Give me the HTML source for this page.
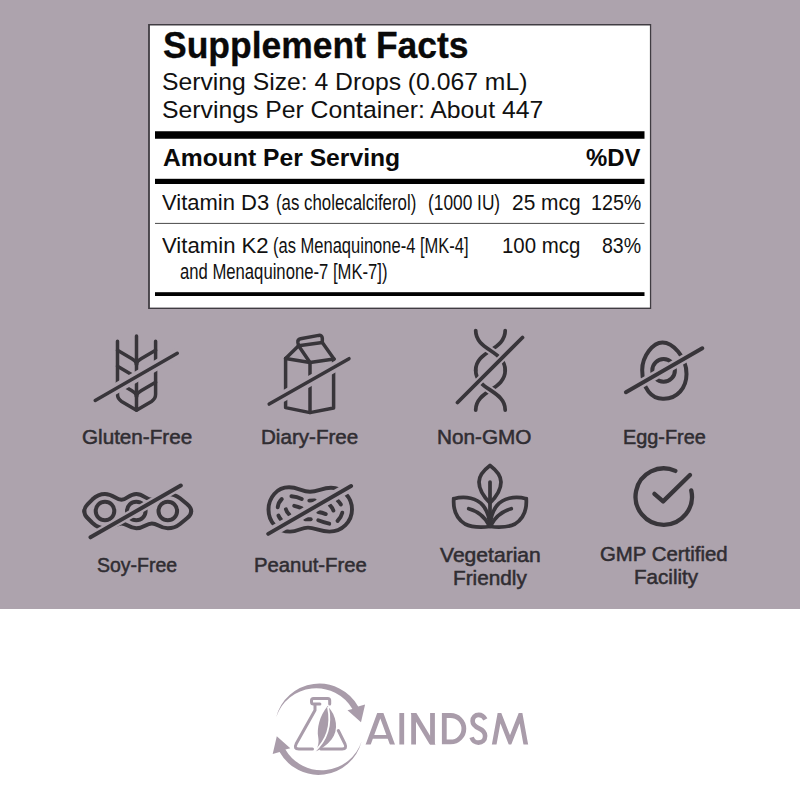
<!DOCTYPE html>
<html><head><meta charset="utf-8">
<style>
html,body{margin:0;padding:0;}
body{width:800px;height:800px;background:#fff;position:relative;overflow:hidden;font-family:"Liberation Sans",sans-serif;}
#top{position:absolute;left:0;top:0;width:800px;height:609px;background:#ada3ad;border-bottom:0;}
#box{position:absolute;left:148px;top:24px;width:500.2px;height:282.3px;background:#fff;border-style:solid;border-color:#403c42;border-width:1.5px 1.3px 1.2px 1.7px;}
.t{position:absolute;white-space:nowrap;line-height:1;transform-origin:0 0;}
.bar{position:absolute;background:#000;}
svg{position:absolute;left:0;top:0;}
</style></head><body>
<div id="top"></div>
<svg width="800" height="800" viewBox="0 0 800 800">
<rect x="148.1" y="24" width="503.1" height="285" fill="#403c42"/>
<rect x="149.9" y="25.5" width="500" height="282.1" fill="#fff"/>
<rect x="155" y="131.25" width="489.5" height="7.5" fill="#000"/>
<rect x="155" y="178.8" width="489.5" height="5.2" fill="#000"/>
<rect x="155" y="222.9" width="489.5" height="1" fill="#4a4a4a"/>
<rect x="155" y="292.2" width="489.5" height="3.8" fill="#000"/>
</svg>
<div class="t" id="t1" style="left:162.61px;top:28.33px;font-size:36px;color:#0a0a0a;transform:scaleX(0.9856);font-weight:bold;-webkit-text-stroke:0.3px #0a0a0a;">Supplement Facts</div>
<div class="t" id="t2" style="left:161.99px;top:70.26px;font-size:24.5px;color:#111;transform:scaleX(1.0087);">Serving Size: 4 Drops (0.067 mL)</div>
<div class="t" id="t3" style="left:161.99px;top:98.26px;font-size:24.5px;color:#111;transform:scaleX(1.0104);">Servings Per Container: About 447</div>
<div class="t" id="t4" style="left:162.50px;top:146.26px;font-size:24.5px;color:#0a0a0a;transform:scaleX(1.0070);font-weight:bold;">Amount Per Serving</div>
<div class="t" id="t5" style="left:585.50px;top:146.26px;font-size:24.5px;color:#0a0a0a;transform:scaleX(0.9756);font-weight:bold;">%DV</div>
<div class="t" id="r1a" style="left:162.30px;top:192.80px;font-size:21.5px;color:#111;transform:scaleX(1.0238);">Vitamin D3</div>
<div class="t" id="r1b" style="left:276.22px;top:192.80px;font-size:21.5px;color:#111;transform:scaleX(0.7827);">(as cholecalciferol)</div>
<div class="t" id="r1c" style="left:427.80px;top:192.80px;font-size:21.5px;color:#111;transform:scaleX(0.8049);">(1000 IU)</div>
<div class="t" id="r1d" style="left:512.03px;top:192.80px;font-size:21.5px;color:#111;transform:scaleX(0.9730);">25 mcg</div>
<div class="t" id="r1e" style="left:590.78px;top:192.80px;font-size:21.5px;color:#111;transform:scaleX(0.9151);">125%</div>
<div class="t" id="r2a" style="left:162.30px;top:235.80px;font-size:21.5px;color:#111;transform:scaleX(1.0300);">Vitamin K2</div>
<div class="t" id="r2b" style="left:272.73px;top:235.80px;font-size:21.5px;color:#111;transform:scaleX(0.7685);">(as Menaquinone-4 [MK-4]</div>
<div class="t" id="r2c" style="left:180.00px;top:261.80px;font-size:21.5px;color:#111;transform:scaleX(0.7751);">and Menaquinone-7 [MK-7])</div>
<div class="t" id="r2d" style="left:502.35px;top:235.80px;font-size:21.5px;color:#111;transform:scaleX(0.9490);">100 mcg</div>
<div class="t" id="r2e" style="left:602.00px;top:235.80px;font-size:21.5px;color:#111;transform:scaleX(0.9088);">83%</div>
<div class="t" id="l1" style="left:81.60px;top:428.06px;font-size:19.3px;color:#302d32;transform:scaleX(1.0710);-webkit-text-stroke:0.5px #302d32;">Gluten-Free</div>
<div class="t" id="l2" style="left:261.23px;top:428.06px;font-size:19.3px;color:#302d32;transform:scaleX(1.0679);-webkit-text-stroke:0.5px #302d32;">Diary-Free</div>
<div class="t" id="l3" style="left:436.92px;top:428.06px;font-size:19.3px;color:#302d32;transform:scaleX(1.0754);-webkit-text-stroke:0.5px #302d32;">Non-GMO</div>
<div class="t" id="l4" style="left:622.97px;top:428.06px;font-size:19.3px;color:#302d32;transform:scaleX(1.0299);-webkit-text-stroke:0.5px #302d32;">Egg-Free</div>
<div class="t" id="l5" style="left:96.60px;top:556.46px;font-size:19.3px;color:#302d32;transform:scaleX(1.0106);-webkit-text-stroke:0.5px #302d32;">Soy-Free</div>
<div class="t" id="l6" style="left:253.95px;top:556.46px;font-size:19.3px;color:#302d32;transform:scaleX(1.0526);-webkit-text-stroke:0.5px #302d32;">Peanut-Free</div>
<div class="t" id="l7a" style="left:440.40px;top:546.46px;font-size:19.3px;color:#302d32;transform:scaleX(1.0932);-webkit-text-stroke:0.5px #302d32;">Vegetarian</div>
<div class="t" id="l7b" style="left:453.32px;top:568.56px;font-size:19.3px;color:#302d32;transform:scaleX(1.0760);-webkit-text-stroke:0.5px #302d32;">Friendly</div>
<div class="t" id="l8a" style="left:599.90px;top:545.06px;font-size:19.3px;color:#302d32;transform:scaleX(1.0569);-webkit-text-stroke:0.5px #302d32;">GMP Certified</div>
<div class="t" id="l8b" style="left:633.83px;top:568.16px;font-size:19.3px;color:#302d32;transform:scaleX(1.0674);-webkit-text-stroke:0.5px #302d32;">Facility</div>
<svg width="800" height="800" viewBox="0 0 800 800">
<g fill="none" stroke="#38353a" stroke-width="3.5" stroke-linecap="round" stroke-linejoin="round">
<g id="wheat" stroke-width="3.5">
<path d="M136.5 335.9V410"/>
<path d="M117.5 341.2V394.3Q117.5 398.8 121.6 401.4L136.5 410.3L151.5 401.4Q155.6 398.8 155.6 394.3V341.2"/>
<path d="M117.5 350.3L131.5 358.5Q136.5 361.3 136.5 364.8"/>
<path d="M155.6 350.3L141.5 358.5Q136.5 361.3 136.5 364.8"/>
<path d="M117.5 366.2L131.5 374.4Q136.5 377.2 136.5 380.7"/>
<path d="M117.5 382.3L131.5 390.5Q136.5 393.3 136.5 396.8"/>
<path d="M155.6 382.3L141.5 390.5Q136.5 393.3 136.5 396.8"/>
<path d="M95.2 400.4L177.3 353.3" stroke="#ada3ad" stroke-width="10.5" stroke-linecap="butt"/><path d="M95.2 400.4L177.3 353.3"/>
</g>
<g id="milk" stroke-width="3.5">
<path d="M285.6 358.5V407.6L310 412.6L333.6 408V359"/>
<path d="M310 362.5V412.6"/>
<path d="M285.6 358.5L310 362.5L334 359"/>
<path d="M285.6 358.5L298.6 345.8L310 362.5"/>
<path d="M298.6 345.8L322.3 342.6L334 359"/>
<path d="M298.6 345.8L297.9 342.5Q297.5 339.3 300.5 338.7L318.6 335.4Q322 334.9 322.3 338.2V342.6"/>
<path d="M269.2 404.1L349 358.7" stroke="#ada3ad" stroke-width="10.5" stroke-linecap="butt"/><path d="M269.2 404.1L349 358.7"/>
</g>
<g id="dna" stroke-width="3.75">
<path d="M505.2 330.6C505.2 350.6 475.7 350.3 475.7 370.3"/><path d="M475.7 330.6C475.7 350.6 505.2 350.3 505.2 370.3" stroke="#ada3ad" stroke-width="7.8" stroke-linecap="butt" pathLength="100" stroke-dasharray="0 34 32 34"/><path d="M475.7 330.6C475.7 350.6 505.2 350.3 505.2 370.3"/>
<path d="M505.2 370.3C505.2 390.3 475.7 390 475.7 410"/><path d="M475.7 370.3C475.7 390.3 505.2 390 505.2 410" stroke="#ada3ad" stroke-width="7.8" stroke-linecap="butt" pathLength="100" stroke-dasharray="0 34 32 34"/><path d="M475.7 370.3C475.7 390.3 505.2 390 505.2 410"/>
<path d="M457.5 402.5L522.5 337.5" stroke="#ada3ad" stroke-width="7.8" stroke-linecap="butt"/><path d="M457.5 402.5L522.5 337.5"/>
</g>
<g id="egg" stroke-width="4">
<path d="M662.5 342.5C672 342.5 686.5 356 686.5 374C686.5 388 677 398.75 664 398.75C652 399.5 642.2 389 642.2 370C642.2 356 653 342.5 662.5 342.5Z"/>
<circle cx="663.6" cy="370.4" r="11.3"/>
<path d="M625.9 392.25L702.3 348.35" stroke="#ada3ad" stroke-width="9" stroke-linecap="butt"/><path d="M625.9 392.25L702.3 348.35"/>
</g>
<g id="soy" stroke-width="4">
<circle cx="105" cy="511" r="9.3"/>
<circle cx="136.3" cy="511" r="9.3"/>
<circle cx="167.8" cy="511" r="9.3"/>
<path d="M84.3 511.15C84.3 508 85.5 506.3 87.5 504.3L92.5 499.3C96.5 495.5 100 494 105 494C113 494 116 499.8 121.5 499.8C127 499.8 129 494 136.3 494C143.6 494 146 499.8 151.9 499.8C157.5 499.8 160 494 167.8 494C173 494 176.5 495.5 180 498.3L187 504C190 506.5 191.2 508.5 191.2 511.15"/><path d="M84.3 511.15C84.3 514.3 85.5 516.0 87.5 518.0L92.5 523.0C96.5 526.8 100 528.3 105 528.3C113 528.3 116 523.4 121.5 523.4C127 523.4 129 528.3 136.3 528.3C143.6 528.3 146 523.4 151.9 523.4C157.5 523.4 160 528.3 167.8 528.3C173 528.3 176.5 526.8 180 524.0L187 518.3C190 515.8 191.2 513.8 191.2 511.15"/>
<path d="M90.5 537.3L180.8 485.6" stroke="#ada3ad" stroke-width="8.5" stroke-linecap="butt"/><path d="M90.5 537.3L180.8 485.6"/>
</g>
<g id="peanut" stroke-width="3.9" transform="translate(0 0.6)">
<path d="M310 491.2C302 491.2 298 486.7 289 486.7C277 486.7 268.5 497 268.5 509C268.5 521 277 531 290 531C298 531 301 527 308 527C315 527 320 531 329.5 531C342 531 352 521 352 509C352 497 343 487.2 331 487.2C322 487.2 318 491.2 310 491.2Z"/>
<path d="M277.7 506.6Q278.5 501.5 281.8 498.4"/>
<path d="M291.4 495.6Q297 496 301.75 498.4"/>
<path d="M309.3 500Q312 499.7 314.8 499.75"/>
<path d="M294.2 505.25Q298 506 301.75 507.7"/>
<path d="M285.9 508.7Q286.8 512 289.4 514.2"/>
<path d="M278.4 514.9Q279.3 517.2 281.1 519"/>
<path d="M305.2 518.7Q308 518.7 310.7 518.7"/>
<path d="M318.25 511.4Q322 512 325.8 513.5"/>
<path d="M318.25 519.7Q323.5 521.8 329.25 523.1"/>
<path d="M329.9 504.6Q332.3 507 333.4 510"/>
<path d="M337.5 499.75Q339.6 501.6 340.9 503.9"/>
<path d="M342.3 512.1Q341 517 337.5 520.4"/>
<path d="M268.2 533.25L351.1 485.45" stroke="#ada3ad" stroke-width="10.5" stroke-linecap="butt"/><path d="M268.2 533.25L351.1 485.45"/>
</g>
<g id="veg" stroke-width="3.75">
<path d="M490 465.5C484 470 479 476 479 482C479 491 485 498 490 503C495 498 501 491 501 482C501 476 496 470 490 465.5Z"/>
<path d="M490 482V526"/>
<path d="M453.75 498.75C466 495.5 477 498.5 483 505.5C487 510.5 489.5 517 490 526"/><path d="M453.75 498.75C453 510 457 519 465 524C472 527.5 481 527.5 490 526.5"/><path d="M468.75 508.75C477 511 485 517 489.5 526"/>
<path d="M526.25 498.75C514 495.5 503 498.5 497 505.5C493 510.5 490.5 517 490 526"/><path d="M526.25 498.75C527 510 523 519 515 524C508 527.5 499 527.5 490 526.5"/><path d="M511.25 508.75C503 511 495 517 490.5 526"/>
</g>
<g id="gmp" stroke-width="4.3">
<path d="M691.27 490.45A28.2 28.2 0 1 1 675.35 470.9"/>
<path d="M654.4 493.8L663.1 501.4L690 475"/>
</g>
</g>
<g fill="#a99caa" stroke="none">
<path id="cres" d="M276.25 717A44.53 44.53 0 0 1 358.2 706.4L365.1 704.6L361 722.2L347.5 710.3L352.4 709.1A42.03 42.03 0 0 0 276.25 717Z"/>
<path d="M276.25 717A44.53 44.53 0 0 1 358.2 706.4L365.1 704.6L361 722.2L347.5 710.3L352.4 709.1A42.03 42.03 0 0 0 276.25 717Z" transform="translate(0.6 0) rotate(180 318.6 729.25)"/>
<path d="M327.6 706C337 716 339 730 331.5 739.5C326.5 745.5 320.5 749.5 315.5 751.5C318 747 319.2 743 318.2 737C316.8 729 319.3 716 327.6 706Z"/>
</g>
<path d="M328 707C331.2 722 329.5 738 314 752" fill="none" stroke="#fff" stroke-width="1.8"/>
<g fill="none" stroke="#a99caa" stroke-width="3" stroke-linejoin="round" stroke-linecap="round">
<path d="M319.9 703.9H313.5Q311.5 703.9 311.5 701.9V700.5Q311.5 698.5 313.5 698.5H327.7Q329.7 698.5 329.7 700.5V703.9"/>
<path d="M315 704.5V710.2L296.2 743.8Q293.6 749.1 298.8 749.1H312.5"/>
<path d="M338.3 730.5L345 744Q347.2 749.1 342.2 749.1H321"/>
</g>
<clipPath id="cap"><rect x="355" y="713.1" width="190" height="31.3"/></clipPath>
<g clip-path="url(#cap)" fill="none" stroke="#a99caa" stroke-width="4.8" stroke-miterlimit="12">
<path d="M366.9 748L380.3 711.5L393.7 748"/>
<path d="M372.5 736.9H388.1" stroke-width="3.8"/>
<path d="M401.75 710V748"/>
<path d="M413.6 750V710"/><path d="M432.5 750V710"/><path d="M411.2 709.1L434.9 748.4"/>
<path d="M444.3 715.5H450.6A13.25 13.25 0 0 1 450.6 742H444.3Z"/>
</g>
<g fill="none" stroke="#a99caa" stroke-width="4.6" stroke-miterlimit="12">
<path d="M485.4 719.3C483.7 716.3 481.5 714.9 478.8 714.9C475 714.9 472.6 717.6 472.6 721C472.6 725 475.5 726.8 479 728.4C482.6 730 485.1 732.2 485.1 736C485.1 740 482.2 742.6 478.4 742.6C475 742.6 472.7 740.8 471.6 737.4"/>
</g>
<g clip-path="url(#cap)" fill="none" stroke="#a99caa" stroke-width="4.6" stroke-miterlimit="12">
<path d="M493.2 750L499.6 715L510 741.5L520.4 715L526.8 750"/>
</g>
</svg>
</body></html>
